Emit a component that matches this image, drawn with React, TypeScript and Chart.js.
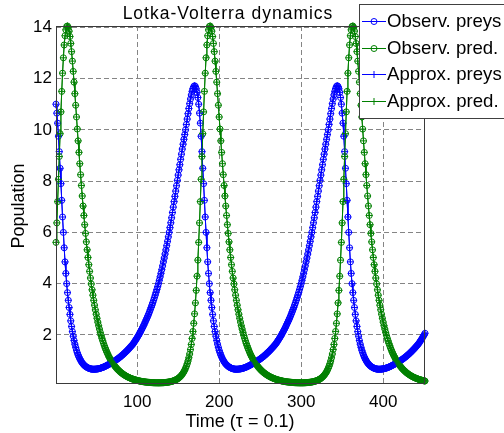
import { useEffect, useRef } from 'react';
import { Chart, registerables } from 'chart.js';

Chart.register(...registerables);

// Prey population, cycle 1 (t = 1..174)
const preysCycle1 = [
  11.00, 10.65, 10.26, 9.75, 9.15, 8.50, 7.90, 7.25, 6.60, 6.00,
  5.40, 4.85, 4.40, 4.00, 3.65, 3.35, 3.07, 2.80, 2.55, 2.33,
  2.13, 1.95, 1.785, 1.64, 1.515, 1.40, 1.305, 1.215, 1.14, 1.07,
  1.01, 0.956, 0.907, 0.868, 0.832, 0.80, 0.775, 0.752, 0.732, 0.715,
  0.70, 0.688, 0.678, 0.671, 0.666, 0.663, 0.662, 0.663, 0.665, 0.668,
  0.672, 0.677, 0.683, 0.691, 0.70, 0.711, 0.722, 0.734, 0.747, 0.76,
  0.776, 0.792, 0.809, 0.826, 0.844, 0.862, 0.88, 0.899, 0.918, 0.937,
  0.957, 0.977, 0.998, 1.019, 1.04, 1.063, 1.086, 1.11, 1.135, 1.16,
  1.188, 1.216, 1.244, 1.274, 1.304, 1.335, 1.367, 1.40, 1.433, 1.467,
  1.502, 1.538, 1.575, 1.612, 1.65, 1.697, 1.745, 1.794, 1.845, 1.897,
  1.95, 2.006, 2.064, 2.124, 2.185, 2.248, 2.313, 2.38, 2.448, 2.518,
  2.59, 2.664, 2.74, 2.818, 2.90, 2.985, 3.072, 3.162, 3.255, 3.35,
  3.451, 3.554, 3.661, 3.771, 3.884, 4.00, 4.13, 4.264, 4.402, 4.545,
  4.693, 4.85, 5.00, 5.155, 5.315, 5.48, 5.65, 5.825, 6.00, 6.185,
  6.375, 6.57, 6.775, 6.985, 7.20, 7.405, 7.61, 7.82, 8.03, 8.235,
  8.44, 8.64, 8.85, 9.05, 9.25, 9.44, 9.63, 9.815, 10.00, 10.21,
  10.42, 10.63, 10.83, 11.02, 11.20, 11.36, 11.50, 11.61, 11.69, 11.72,
  11.69, 11.60, 11.46, 11.26,
];

// Prey population, cycle 2 (t = 175..348)
const preysCycle2 = [
  11.00, 10.65, 10.26, 9.75, 9.15, 8.50, 7.90, 7.25, 6.60, 6.00,
  5.40, 4.85, 4.40, 4.00, 3.65, 3.35, 3.07, 2.80, 2.55, 2.33,
  2.13, 1.95, 1.785, 1.64, 1.515, 1.40, 1.305, 1.215, 1.14, 1.07,
  1.01, 0.956, 0.907, 0.868, 0.832, 0.80, 0.775, 0.752, 0.732, 0.715,
  0.70, 0.688, 0.678, 0.671, 0.666, 0.663, 0.662, 0.663, 0.665, 0.668,
  0.672, 0.677, 0.683, 0.691, 0.70, 0.711, 0.722, 0.734, 0.747, 0.76,
  0.776, 0.792, 0.809, 0.826, 0.844, 0.862, 0.88, 0.899, 0.918, 0.937,
  0.957, 0.977, 0.998, 1.019, 1.04, 1.063, 1.086, 1.11, 1.135, 1.16,
  1.188, 1.216, 1.244, 1.274, 1.304, 1.335, 1.367, 1.40, 1.433, 1.467,
  1.502, 1.538, 1.575, 1.612, 1.65, 1.697, 1.745, 1.794, 1.845, 1.897,
  1.95, 2.006, 2.064, 2.124, 2.185, 2.248, 2.313, 2.38, 2.448, 2.518,
  2.59, 2.664, 2.74, 2.818, 2.90, 2.985, 3.072, 3.162, 3.255, 3.35,
  3.451, 3.554, 3.661, 3.771, 3.884, 4.00, 4.13, 4.264, 4.402, 4.545,
  4.693, 4.85, 5.00, 5.155, 5.315, 5.48, 5.65, 5.825, 6.00, 6.185,
  6.375, 6.57, 6.775, 6.985, 7.20, 7.405, 7.61, 7.82, 8.03, 8.235,
  8.44, 8.64, 8.85, 9.05, 9.25, 9.44, 9.63, 9.815, 10.00, 10.21,
  10.42, 10.63, 10.83, 11.02, 11.20, 11.36, 11.50, 11.61, 11.69, 11.72,
  11.69, 11.60, 11.46, 11.26,
];

// Prey population, cycle 3 (t = 349..451)
const preysCycle3 = [
  11.00, 10.65, 10.26, 9.75, 9.15, 8.50, 7.90, 7.25, 6.60, 6.00,
  5.40, 4.85, 4.40, 4.00, 3.65, 3.35, 3.07, 2.80, 2.55, 2.33,
  2.13, 1.95, 1.785, 1.64, 1.515, 1.40, 1.305, 1.215, 1.14, 1.07,
  1.01, 0.956, 0.907, 0.868, 0.832, 0.80, 0.775, 0.752, 0.732, 0.715,
  0.70, 0.688, 0.678, 0.671, 0.666, 0.663, 0.662, 0.663, 0.665, 0.668,
  0.672, 0.677, 0.683, 0.691, 0.70, 0.711, 0.722, 0.734, 0.747, 0.76,
  0.776, 0.792, 0.809, 0.826, 0.844, 0.862, 0.88, 0.899, 0.918, 0.937,
  0.957, 0.977, 0.998, 1.019, 1.04, 1.063, 1.086, 1.11, 1.135, 1.16,
  1.188, 1.216, 1.244, 1.274, 1.304, 1.335, 1.367, 1.40, 1.433, 1.467,
  1.502, 1.538, 1.575, 1.612, 1.65, 1.697, 1.745, 1.794, 1.845, 1.897,
  1.95, 2.006, 2.064,
];

// Predator population, cycle 1 (t = 1..174)
const predCycle1 = [
  5.61, 6.37, 7.20, 8.07, 8.96, 9.85, 10.70, 11.50, 12.21, 12.81,
  13.31, 13.67, 13.90, 14.03, 14.05, 13.99, 13.85, 13.64, 13.37, 13.05,
  12.68, 12.28, 11.86, 11.41, 10.96, 10.50, 10.03, 9.57, 9.12, 8.68,
  8.25, 7.83, 7.42, 7.03, 6.66, 6.30, 5.96, 5.63, 5.32, 5.02,
  4.74, 4.48, 4.22, 3.99, 3.76, 3.55, 3.35, 3.16, 2.98, 2.81,
  2.65, 2.50, 2.36, 2.23, 2.10, 1.98, 1.87, 1.77, 1.67, 1.58,
  1.49, 1.41, 1.33, 1.26, 1.19, 1.13, 1.067, 1.011, 0.957, 0.907,
  0.860, 0.816, 0.774, 0.734, 0.697, 0.662, 0.629, 0.598, 0.568, 0.541,
  0.515, 0.490, 0.467, 0.445, 0.424, 0.405, 0.387, 0.369, 0.353, 0.338,
  0.323, 0.310, 0.297, 0.285, 0.273, 0.262, 0.252, 0.242, 0.233, 0.225,
  0.217, 0.209, 0.202, 0.195, 0.189, 0.1835, 0.178, 0.173, 0.1685, 0.164,
  0.160, 0.1563, 0.1528, 0.1497, 0.1468, 0.1442, 0.1418, 0.1397, 0.1378, 0.1362,
  0.1349, 0.1338, 0.1330, 0.1324, 0.1321, 0.1320, 0.1322, 0.1327, 0.1336, 0.1348,
  0.1363, 0.1382, 0.1406, 0.1434, 0.1466, 0.1504, 0.1547, 0.1597, 0.1653, 0.1716,
  0.1788, 0.1869, 0.1961, 0.2065, 0.2182, 0.2316, 0.2466, 0.2636, 0.2828, 0.3046,
  0.3293, 0.3573, 0.3891, 0.4253, 0.4665, 0.5136, 0.5674, 0.6290, 0.6996, 0.7806,
  0.8745, 0.9832, 1.110, 1.257, 1.429, 1.629, 1.863, 2.136, 2.453, 2.822,
  3.249, 3.737, 4.292, 4.917,
];

// Predator population, cycle 2 (t = 175..348)
const predCycle2 = [
  5.61, 6.37, 7.20, 8.07, 8.96, 9.85, 10.70, 11.50, 12.21, 12.81,
  13.31, 13.67, 13.90, 14.03, 14.05, 13.99, 13.85, 13.64, 13.37, 13.05,
  12.68, 12.28, 11.86, 11.41, 10.96, 10.50, 10.03, 9.57, 9.12, 8.68,
  8.25, 7.83, 7.42, 7.03, 6.66, 6.30, 5.96, 5.63, 5.32, 5.02,
  4.74, 4.48, 4.22, 3.99, 3.76, 3.55, 3.35, 3.16, 2.98, 2.81,
  2.65, 2.50, 2.36, 2.23, 2.10, 1.98, 1.87, 1.77, 1.67, 1.58,
  1.49, 1.41, 1.33, 1.26, 1.19, 1.13, 1.067, 1.011, 0.957, 0.907,
  0.860, 0.816, 0.774, 0.734, 0.697, 0.662, 0.629, 0.598, 0.568, 0.541,
  0.515, 0.490, 0.467, 0.445, 0.424, 0.405, 0.387, 0.369, 0.353, 0.338,
  0.323, 0.310, 0.297, 0.285, 0.273, 0.262, 0.252, 0.242, 0.233, 0.225,
  0.217, 0.209, 0.202, 0.195, 0.189, 0.1835, 0.178, 0.173, 0.1685, 0.164,
  0.160, 0.1563, 0.1528, 0.1497, 0.1468, 0.1442, 0.1418, 0.1397, 0.1378, 0.1362,
  0.1349, 0.1338, 0.1330, 0.1324, 0.1321, 0.1320, 0.1322, 0.1327, 0.1336, 0.1348,
  0.1363, 0.1382, 0.1406, 0.1434, 0.1466, 0.1504, 0.1547, 0.1597, 0.1653, 0.1716,
  0.1788, 0.1869, 0.1961, 0.2065, 0.2182, 0.2316, 0.2466, 0.2636, 0.2828, 0.3046,
  0.3293, 0.3573, 0.3891, 0.4253, 0.4665, 0.5136, 0.5674, 0.6290, 0.6996, 0.7806,
  0.8745, 0.9832, 1.110, 1.257, 1.429, 1.629, 1.863, 2.136, 2.453, 2.822,
  3.249, 3.737, 4.292, 4.917,
];

// Predator population, cycle 3 (t = 349..451)
const predCycle3 = [
  5.61, 6.37, 7.20, 8.07, 8.96, 9.85, 10.70, 11.50, 12.21, 12.81,
  13.31, 13.67, 13.90, 14.03, 14.05, 13.99, 13.85, 13.64, 13.37, 13.05,
  12.68, 12.28, 11.86, 11.41, 10.96, 10.50, 10.03, 9.57, 9.12, 8.68,
  8.25, 7.83, 7.42, 7.03, 6.66, 6.30, 5.96, 5.63, 5.32, 5.02,
  4.74, 4.48, 4.22, 3.99, 3.76, 3.55, 3.35, 3.16, 2.98, 2.81,
  2.65, 2.50, 2.36, 2.23, 2.10, 1.98, 1.87, 1.77, 1.67, 1.58,
  1.49, 1.41, 1.33, 1.26, 1.19, 1.13, 1.067, 1.011, 0.957, 0.907,
  0.860, 0.816, 0.774, 0.734, 0.697, 0.662, 0.629, 0.598, 0.568, 0.541,
  0.515, 0.490, 0.467, 0.445, 0.424, 0.405, 0.387, 0.369, 0.353, 0.338,
  0.323, 0.310, 0.297, 0.285, 0.273, 0.262, 0.252, 0.242, 0.233, 0.225,
  0.217, 0.209, 0.202,
];

const obsPreys = [...preysCycle1, ...preysCycle2, ...preysCycle3];
const obsPred = [...predCycle1, ...predCycle2, ...predCycle3];
// The approximation coincides with the observations at this scale
const approxPreys = obsPreys;
const approxPred = obsPred;
const timeSteps = obsPreys.map((_, i) => i + 1);

const xTicks = [100, 200, 300, 400];
const yTicks = [2, 4, 6, 8, 10, 12, 14];
const seriesLabels = ['Observ. preys', 'Observ. pred.', 'Approx. preys', 'Approx. pred.'];

const FONT = '"Liberation Sans", Arial, Helvetica, sans-serif';
const BLUE = '#0000ff';
const GREEN = '#008000';
const GRID = '#858585';
const AXIS = '#3a3a3a';

const toPoints = (vals: number[]) => vals.map((y, i) => ({ x: timeSteps[i], y }));

const boxPlugin = {
  id: 'box',
  afterDatasetsDraw(chart: any) {
    const { ctx, chartArea: a } = chart;
    ctx.save();
    ctx.strokeStyle = AXIS;
    ctx.lineWidth = 1;
    ctx.setLineDash([]);
    ctx.strokeRect(a.left + 0.5, a.top + 0.5, a.right - a.left - 1, a.bottom - a.top);
    ctx.restore();
  },
};

const textPlugin = {
  id: 'texts',
  afterDraw(chart: any) {
    const { ctx } = chart;
    ctx.save();
    // title
    ctx.fillStyle = '#000';
    ctx.font = `17.5px ${FONT}`;
    (ctx as any).letterSpacing = '1px';
    ctx.textAlign = 'center';
    ctx.textBaseline = 'alphabetic';
    ctx.fillText('Lotka-Volterra dynamics', 228, 19);
    (ctx as any).letterSpacing = '0px';
    // x axis title
    ctx.font = `18px ${FONT}`;
    ctx.fillText('Time (\u03c4 = 0.1)', 240, 427);
    // y axis title
    ctx.save();
    ctx.translate(19, 206);
    ctx.rotate(-Math.PI / 2);
    ctx.textBaseline = 'middle';
    ctx.fillText('Population', 0, 0);
    ctx.restore();

    // legend
    const lx = 359.5, ly = 4.5, lw = 150, lh = 114;
    ctx.fillStyle = '#fff';
    ctx.fillRect(lx, ly, lw, lh);
    ctx.strokeStyle = '#404040';
    ctx.lineWidth = 1;
    ctx.strokeRect(lx, ly, lw, lh);
    const colors = [BLUE, GREEN, BLUE, GREEN];
    seriesLabels.forEach((label, i) => {
      const y = Math.round(21 + i * 26.7) + 0.5;
      ctx.strokeStyle = colors[i];
      ctx.beginPath();
      ctx.moveTo(362, y);
      ctx.lineTo(386, y);
      ctx.stroke();
      ctx.beginPath();
      if (i < 2) {
        ctx.arc(374, y, 3, 0, Math.PI * 2);
      } else {
        ctx.moveTo(370.5, y);
        ctx.lineTo(377.5, y);
        ctx.moveTo(374, y - 3.5);
        ctx.lineTo(374, y + 3.5);
      }
      ctx.stroke();
      ctx.fillStyle = '#000';
      ctx.font = `18.6px ${FONT}`;
      ctx.textAlign = 'left';
      ctx.textBaseline = 'middle';
      ctx.fillText(label, 387, y + 0.5);
    });
    ctx.restore();
  },
};

export default function App() {
  const canvasRef = useRef<HTMLCanvasElement | null>(null);

  useEffect(() => {
    document.body.style.margin = '0';
    const canvas = canvasRef.current;
    if (!canvas) return;
    const mk = (label: string, vals: number[], color: string, style: string, order: number) => ({
      label,
      data: toPoints(vals),
      borderColor: color,
      borderWidth: 1,
      pointStyle: style,
      pointRadius: style === 'cross' ? 3.5 : 3,
      pointBorderWidth: 1,
      pointBorderColor: color,
      pointBackgroundColor: 'rgba(0,0,0,0)',
      tension: 0,
      clip: false as const,
      order,
    });
    const chart = new Chart(canvas, {
      type: 'line',
      data: {
        datasets: [
          mk(seriesLabels[0], obsPreys, BLUE, 'circle', 3),
          mk(seriesLabels[1], obsPred, GREEN, 'circle', 2),
          mk(seriesLabels[2], approxPreys, BLUE, 'cross', 1),
          mk(seriesLabels[3], approxPred, GREEN, 'cross', 0),
        ] as any,
      },
      options: {
        animation: false,
        responsive: false,
        devicePixelRatio: 1,
        events: [],
        layout: { padding: { left: 0, top: 26, right: 79, bottom: 0 } },
        plugins: {
          legend: { display: false },
          title: { display: false },
          tooltip: { enabled: false },
        },
        scales: {
          x: {
            type: 'linear',
            min: 1,
            max: 451,
            afterBuildTicks: (s: any) => {
              s.ticks = xTicks.map((v) => ({ value: v }));
            },
            afterFit: (s: any) => {
              s.height = 50;
            },
            grid: { color: GRID, lineWidth: 1, drawTicks: false },
            border: { display: false, dash: [5, 3] },
            ticks: {
              padding: 9,
              color: '#000',
              font: { family: FONT, size: 17 },
              maxRotation: 0,
              autoSkip: false,
            },
          },
          y: {
            type: 'linear',
            min: 0.125,
            max: 14.05,
            afterBuildTicks: (s: any) => {
              s.ticks = yTicks.map((v) => ({ value: v }));
            },
            afterFit: (s: any) => {
              s.width = 56;
            },
            grid: { color: GRID, lineWidth: 1, drawTicks: false },
            border: { display: false, dash: [5, 3] },
            ticks: {
              padding: 4,
              color: '#000',
              font: { family: FONT, size: 17 },
              autoSkip: false,
            },
          },
        },
      } as any,
      plugins: [boxPlugin, textPlugin],
    });
    return () => chart.destroy();
  }, []);

  return (
    <div style={{ width: 504, height: 433 }}>
      <canvas ref={canvasRef} width={504} height={433} style={{ display: 'block' }} />
    </div>
  );
}
